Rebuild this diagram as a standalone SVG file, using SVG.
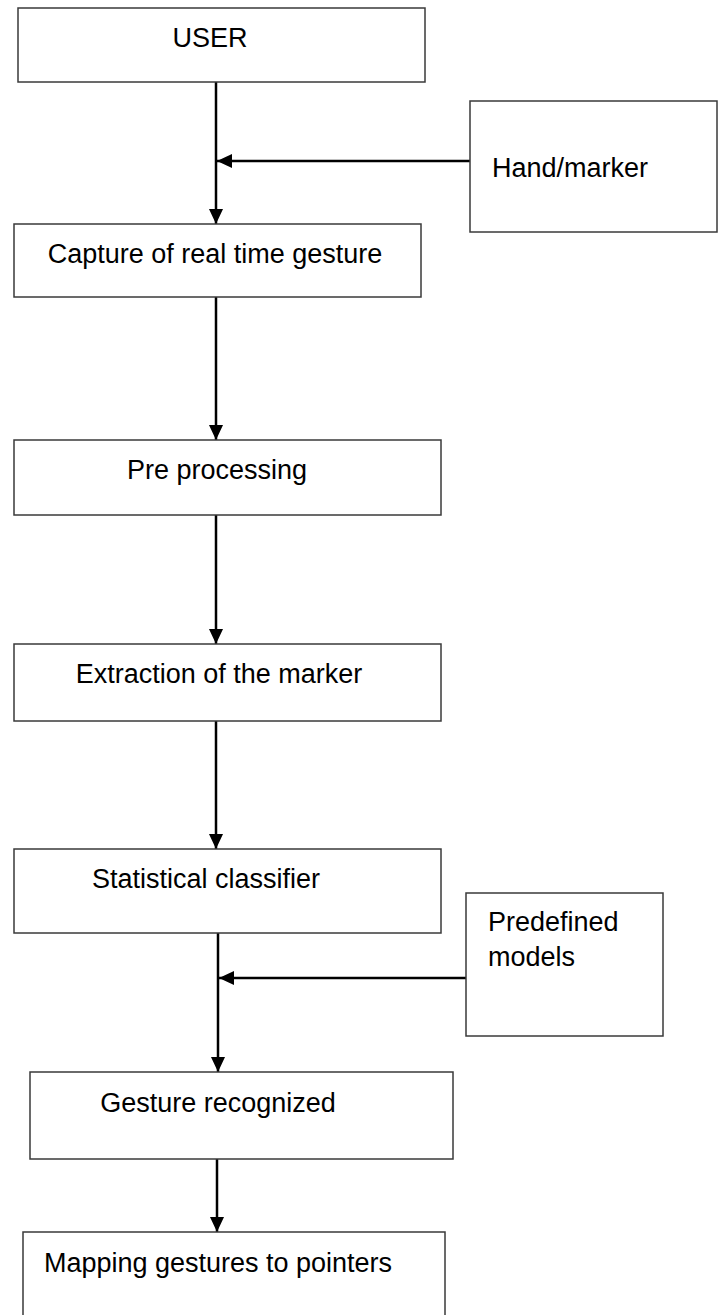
<svg xmlns="http://www.w3.org/2000/svg" width="723" height="1315" viewBox="0 0 723 1315">
  <style>
    .box { fill: #ffffff; stroke: #3a3a3a; stroke-width: 1.5; }
    .lbl { font-family: "Liberation Sans", Arial, sans-serif; font-size: 27px; fill: #000000; }
    .mid { text-anchor: middle; }
    .conn { stroke: #000000; stroke-width: 2.5; fill: none; marker-end: url(#arrow); }
  </style>
  <defs>
    <marker id="arrow" markerUnits="userSpaceOnUse" markerWidth="16" markerHeight="14" refX="15" refY="7" orient="auto">
      <path d="M0,0 L15,7 L0,14 Z" fill="#000000"/>
    </marker>
  </defs>
  <rect width="723" height="1315" fill="#ffffff"/>

  <g id="connectors">
    <line class="conn" x1="216" y1="82" x2="216" y2="224"/>
    <line class="conn" x1="470" y1="161" x2="217" y2="161"/>
    <line class="conn" x1="216" y1="297" x2="216" y2="440"/>
    <line class="conn" x1="216" y1="515" x2="216" y2="644"/>
    <line class="conn" x1="216" y1="721" x2="216" y2="849"/>
    <line class="conn" x1="218" y1="933" x2="218" y2="1072"/>
    <line class="conn" x1="466" y1="978" x2="219" y2="978"/>
    <line class="conn" x1="217" y1="1159" x2="217" y2="1232"/>
  </g>

  <g id="user">
    <rect class="box" x="18" y="8" width="407" height="74"/>
    <text class="lbl mid" x="210" y="47">USER</text>
  </g>
  <g id="hand-marker">
    <rect class="box" x="470" y="101" width="247" height="131"/>
    <text class="lbl" x="492" y="177">Hand/marker</text>
  </g>
  <g id="capture">
    <rect class="box" x="14" y="224" width="407" height="73"/>
    <text class="lbl mid" x="215" y="263">Capture of real time gesture</text>
  </g>
  <g id="preprocessing">
    <rect class="box" x="14" y="440" width="427" height="75"/>
    <text class="lbl mid" x="217" y="479">Pre processing</text>
  </g>
  <g id="extraction">
    <rect class="box" x="14" y="644" width="427" height="77"/>
    <text class="lbl mid" x="219" y="683">Extraction of the marker</text>
  </g>
  <g id="classifier">
    <rect class="box" x="14" y="849" width="427" height="84"/>
    <text class="lbl mid" x="206" y="888">Statistical classifier</text>
  </g>
  <g id="predefined">
    <rect class="box" x="466" y="893" width="197" height="143"/>
    <text class="lbl" x="488" y="931">Predefined</text>
    <text class="lbl" x="488" y="966">models</text>
  </g>
  <g id="recognized">
    <rect class="box" x="30" y="1072" width="423" height="87"/>
    <text class="lbl mid" x="218" y="1112">Gesture recognized</text>
  </g>
  <g id="mapping">
    <rect class="box" x="23" y="1232" width="422" height="100"/>
    <text class="lbl mid" x="218" y="1272">Mapping gestures to pointers</text>
  </g>
</svg>
